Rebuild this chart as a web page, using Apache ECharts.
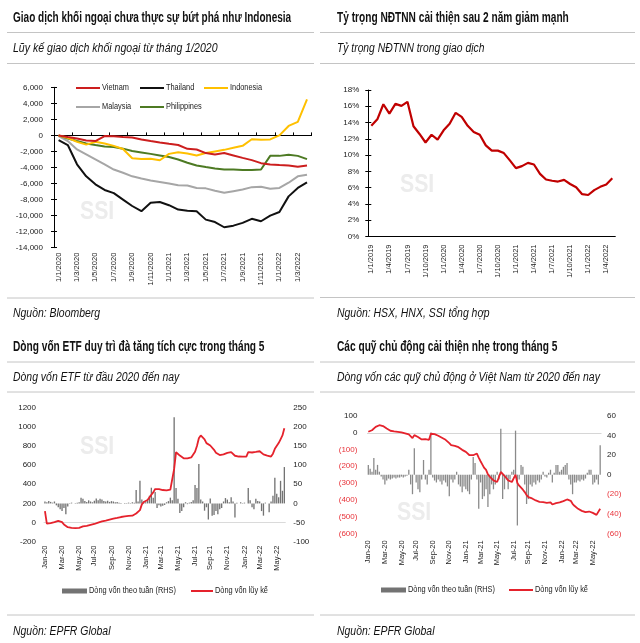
<!DOCTYPE html>
<html><head><meta charset="utf-8">
<script src="https://cdn.jsdelivr.net/npm/echarts@6/dist/echarts.min.js"></script>
<style>html,body{margin:0;padding:0;background:#fff}#c{width:640px;height:643px}</style>
</head><body><div id="c"></div><script>
const FN = '"Liberation Sans Narrow","Arial Narrow","Liberation Sans",Arial,sans-serif';

// ---------- Panel 1: cumulative foreign trading since 1/2020 ----------
const p1Months = ['1/1/2020','1/2/2020','1/3/2020','1/4/2020','1/5/2020','1/6/2020','1/7/2020','1/8/2020','1/9/2020','1/10/2020','1/11/2020','1/12/2020',
  '1/1/2021','1/2/2021','1/3/2021','1/4/2021','1/5/2021','1/6/2021','1/7/2021','1/8/2021','1/9/2021','1/10/2021','1/11/2021','1/12/2021',
  '1/1/2022','1/2/2022','1/3/2022','1/4/2022'];
const vietnam = [0,-200,-375,-625,-700,-80,-100,-200,-250,-500,-700,-875,-1040,-1200,-1670,-1750,-2200,-2375,-2200,-2500,-2800,-3080,-3460,-3625,-3700,-3750,-3900,-3750];
const thailand = [-580,-1200,-3600,-5100,-6100,-6800,-7200,-8000,-8800,-9450,-8400,-8300,-8700,-9250,-9400,-9450,-10500,-10800,-11450,-11250,-10900,-10400,-10700,-10000,-9550,-7600,-6550,-5850];
const indonesia = [0,-300,-800,-1150,-800,-1000,-1300,-1700,-2850,-2950,-2900,-3100,-2300,-2100,-2250,-2500,-2200,-2000,-1800,-1550,-1300,-480,-550,-500,0,1180,1700,4500];
const malaysia = [-100,-700,-1750,-2375,-3000,-3625,-4250,-4650,-5100,-5375,-5625,-5800,-6000,-6200,-6250,-6550,-6600,-6900,-7150,-6950,-6750,-6450,-6400,-6650,-6550,-5900,-5100,-4900];
const philippines = [0,-375,-700,-1000,-1200,-1375,-1450,-1650,-1950,-2125,-2300,-2500,-2700,-3000,-3400,-3750,-3950,-4125,-4250,-4250,-4300,-4300,-4250,-2550,-2550,-2400,-2550,-2950];

// ---------- Panel 2: foreign investor share (%) ----------
const p2Months = ['1/1/2019','1/2/2019','1/3/2019','1/4/2019','1/5/2019','1/6/2019','1/7/2019','1/8/2019','1/9/2019','1/10/2019','1/11/2019','1/12/2019',
  '1/1/2020','1/2/2020','1/3/2020','1/4/2020','1/5/2020','1/6/2020','1/7/2020','1/8/2020','1/9/2020','1/10/2020','1/11/2020','1/12/2020',
  '1/1/2021','1/2/2021','1/3/2021','1/4/2021','1/5/2021','1/6/2021','1/7/2021','1/8/2021','1/9/2021','1/10/2021','1/11/2021','1/12/2021',
  '1/1/2022','1/2/2022','1/3/2022','1/4/2022','1/5/2022'];
const foreignShare = [13.6,14.4,16.25,15.1,16.3,16.05,16.55,13.55,12.6,11.55,12.5,11.9,13.05,13.85,15.2,14.7,13.6,12.85,12.5,11.2,10.55,10.55,10.25,9.35,8.4,8.65,9.05,8.85,7.7,7.0,6.85,6.75,6.95,6.45,6.05,5.2,5.1,5.7,6.1,6.4,7.15];

// ---------- Panels 3 & 4: weekly categories ----------
const weekDates = [];
for (let i = 0; i < 127; i++) { weekDates.push(new Date(Date.UTC(2020,0,1) + i*7*864e5).toISOString().slice(0,10)); }

const etfWeekly = [5,3,6,4,2,5, -5,-10,-15,-20,-12,-28,-8, 1,2,0,1,2,3, 15,12, 6,4,8,5,3,7, 13,8,12,10, 6,5,7,4,6,5,3,4,
  2,1,0,1,-1,2,1,3,2, 35,5,59,10,5,3,8,20,41,15,30, -12,-5,-8,-6,-4,3,6,15,8, 225,40,12,-25,-20,-10,
  3,-2,2,4,8,48,40,103,10,5, -19,-10,-42,13,-32,-30,-20,-28,-15,-12, 5,14,10,3,16,5,-37, 2,0,3,1,2,0,
  40,8,-10,-15,12,6,5,-20,-32,2,0,-23,5,20,67,25,16,59,33,95];
const etfCum = [120,-10,-8,-5,-3,5,12,17,12,5, -20,-35,-48,-52,-55,-57,-58,-60,-55,-45, -40,-38,-35,-30,-25,-20,-15,-5,0,8,
  12,15,20,25,30,35,40,45,48,55, 58,60,65,68,70,72,72,75, 95,110,130,190,215,225,235,255,290,315,350,
  362,350,345,340,338,336,338,345,360, 560,735,725,700,680,672, 670,670,675,680,690,740,800,880,910,905,
  870,830,810,805,800,760,730,712,705,706, 712,720,728,732,735,720,698, 692,690,688,688,688,690,
  735,740,732,730,738,742,745,725,712,710,700,688,690,720,770,785,830,870,910,985];

const activeWeekly = [10,6,3,17,5,10,3,-2,-5,-10, -6,-4,-5,-4,-3,-4,-3,-3,-2,-3,-2,-1,
  5,-10,-20,27,-8,-15,-18,-5,15,-5,-10,5,43, -3,-6,-8,-5,-7,-10,-6,-8,-12,-22,-5,-8,-5,3,
  -10,-12,-18,-12,-15,-17,-20,-5,18,12,-5, -35,-8,-25,-22,-15,-33,-20,-10,-15,-10,3,-5,
  47,-25,-15,-5,-15,-5,3,5,45,-52,-5,10,8, -10,-30,-25,-10,-12,-8,-10,-6,-8,-5,3,-2,-3,2,5,-8,
  2,10,10,3,5,8,10,12, -5,-10,-20,-8,-8,-6,-7,-5,-6,-4,2,5,5,-10,-8,-5,-10,30];
const activeCum = [6,8,15,26,35,40,45,46,40,34, 25,18,12,10,8,6,5,3,2,0,-4,-6,
  -10,-20,-32,-14,-12,-25,-24,-40,-30,-38,-40,-42,-6, -4,-8,-14,-18,-24,-30,-36,-42,-50,-62,-74,-76,-78,-80,
  -86,-90,-102,-110,-114,-120,-134,-144,-134,-126,-124, -148,-170,-190,-210,-222,-248,-262,-272,-284,-290,-294,-284,
  -234,-246,-256,-270,-284,-290,-294,-286,-250,-300,-316,-324,-340, -354,-372,-384,-388,-392,-398,-404,-410,-412,-414,-414,-414,-418,-418,-416,-428,
  -426,-420,-418,-416,-412,-408,-404,-398, -394,-406,-424,-436,-446,-454,-460,-466,-470,-474,-474,-470,-474,-478,-484,-490,-480,-454];

const MON = ['Jan','Feb','Mar','Apr','May','Jun','Jul','Aug','Sep','Oct','Nov','Dec'];
const fmtWeek = v => MON[+v.slice(5,7)-1] + '-' + v.slice(2,4);
const showWeek = (i, v) => (+v.slice(8,10) <= 7) && ((+v.slice(5,7)) % 2 === 1);

const TXT = '#222';
const RED_NEG = '#e8333a';
const C = {vn: '#cc1e1e', th: '#111111', id: '#ffc000', my: '#a6a6a6', ph: '#4d7a23', share: '#c00000', bar3: '#737373', bar4: '#8a8a8a', cum: '#e5222c'};
const lbl = (extra) => Object.assign({fontFamily: FN, fontSize: 8, color: TXT}, extra);
const plain = v => String(v);
const paren = v => v < 0 ? '(' + (-v) + ')' : String(v);

const chart = echarts.init(document.getElementById('c'), null, {renderer: 'canvas'});

function txt(x, y, text, weight, style, size, sx) {
  return {type: 'text', x: x, y: y, z: 10, scaleX: sx, style: {text: text, fontFamily: FN, fontSize: size, fontWeight: weight, fontStyle: style, fill: '#111', verticalAlign: 'middle', align: 'left'}};
}
function rule(x1, x2, y) {
  return {type: 'line', z: 10, shape: {x1: x1, y1: y, x2: x2, y2: y}, style: {stroke: '#c4c4c4', lineWidth: 1}};
}
function mark(x, y) {
  return {type: 'text', x: x, y: y, z: 0, scaleX: 0.85, style: {text: 'SSI', fontFamily: FN, fontSize: 25, fontWeight: 'bold', fill: '#ececec', verticalAlign: 'middle'}};
}
function legLine(x, y, w, color, label) {
  return [
    {type: 'line', z: 10, shape: {x1: x, y1: y, x2: x + w, y2: y}, style: {stroke: color, lineWidth: 2}},
    {type: 'text', x: x + w + 2, y: y, z: 10, scaleX: 0.82, style: {text: label, fontFamily: FN, fontSize: 9, fill: TXT, verticalAlign: 'middle'}}
  ];
}
function legBar(x, y, w, color, label) {
  return [
    {type: 'rect', z: 10, shape: {x: x, y: y - 2.5, width: w, height: 5}, style: {fill: color}},
    {type: 'text', x: x + w + 2, y: y, z: 10, scaleX: 0.82, style: {text: label, fontFamily: FN, fontSize: 9, fill: TXT, verticalAlign: 'middle'}}
  ];
}

const option = {
  animation: false,
  backgroundColor: '#fff',
  graphic: [].concat(
    txt(13, 18, 'Giao dịch khối ngoại chưa thực sự bứt phá như Indonesia', 'bold', 'normal', 14, 0.715),
    txt(337, 18, 'Tỷ trọng NĐTNN cải thiện sau 2 năm giảm mạnh', 'bold', 'normal', 14, 0.725),
    txt(13, 49, 'Lũy kế giao dịch khối ngoại từ tháng 1/2020', 'normal', 'italic', 12, 0.88),
    txt(337, 49, 'Tỷ trọng NĐTNN trong giao dịch', 'normal', 'italic', 12, 0.86),
    txt(13, 314, 'Nguồn: Bloomberg', 'normal', 'italic', 12, 0.87),
    txt(337, 314, 'Nguồn: HSX, HNX, SSI tổng hợp', 'normal', 'italic', 12, 0.87),
    txt(13, 347, 'Dòng vốn ETF duy trì đà tăng tích cực trong tháng 5', 'bold', 'normal', 14, 0.725),
    txt(337, 347, 'Các quỹ chủ động cải thiện nhẹ trong tháng 5', 'bold', 'normal', 14, 0.725),
    txt(13, 378, 'Dòng vốn ETF từ đầu 2020 đến nay', 'normal', 'italic', 12, 0.87),
    txt(337, 378, 'Dòng vốn các quỹ chủ động ở Việt Nam từ 2020 đến nay', 'normal', 'italic', 12, 0.87),
    txt(13, 632, 'Nguồn: EPFR Global', 'normal', 'italic', 12, 0.87),
    txt(337, 632, 'Nguồn: EPFR Global', 'normal', 'italic', 12, 0.87),
    rule(7, 314, 32.5), rule(320, 635, 32.5),
    rule(7, 314, 63.5), rule(320, 635, 63.5),
    rule(7, 314, 298), rule(320, 635, 297.5),
    rule(7, 314, 362), rule(320, 635, 362),
    rule(7, 314, 392), rule(320, 635, 392),
    rule(7, 314, 615), rule(320, 635, 615),
    mark(80, 212), mark(400, 185), mark(80, 447), mark(397, 513),
    legLine(76, 88, 24, C.vn, 'Vietnam'),
    legLine(140, 88, 24, C.th, 'Thailand'),
    legLine(204, 88, 24, C.id, 'Indonesia'),
    legLine(76, 107, 24, C.my, 'Malaysia'),
    legLine(140, 107, 24, C.ph, 'Philippines'),
    legBar(62, 591, 25, C.bar3, 'Dòng vốn theo tuần (RHS)'),
    legLine(191, 591, 22, C.cum, 'Dòng vốn lũy kế'),
    legBar(381, 590, 25, C.bar3, 'Dòng vốn theo tuần (RHS)'),
    legLine(509, 590, 24, C.cum, 'Dòng vốn lũy kế')
  ),
  grid: [
    {left: 54, top: 87.3, width: 257.6, height: 160.4},
    {left: 368.3, top: 90, width: 247, height: 146.5},
    {left: 44, top: 407.7, width: 241.3, height: 134},
    {left: 367.4, top: 416, width: 233.7, height: 117.3}
  ],
  xAxis: [
    {gridIndex: 0, type: 'category', data: p1Months, boundaryGap: true, position: 'bottom',
      axisLine: {onZero: true, onZeroAxisIndex: 0, lineStyle: {color: '#000', width: 1}},
      axisTick: {show: true, interval: 1, inside: true, length: 3, lineStyle: {color: '#000'}},
      axisLabel: {show: false}, splitLine: {show: false}},
    {gridIndex: 0, type: 'category', data: p1Months, boundaryGap: true, position: 'bottom',
      axisLine: {show: false, onZero: false}, axisTick: {show: false},
      axisLabel: lbl({interval: 1, rotate: 90, margin: 5, fontSize: 7.5})},
    {gridIndex: 1, type: 'category', data: p2Months, boundaryGap: true,
      axisLine: {lineStyle: {color: '#000'}},
      axisTick: {interval: 2, length: 3, lineStyle: {color: '#000'}},
      axisLabel: lbl({interval: 2, rotate: 90, margin: 8, fontSize: 7.5})},
    {gridIndex: 2, type: 'category', data: weekDates, boundaryGap: true,
      axisLine: {onZero: true, onZeroAxisIndex: 4, lineStyle: {color: '#dadada', width: 1}}, axisTick: {show: false},
      axisLabel: {show: false}},
    {gridIndex: 3, type: 'category', data: weekDates, boundaryGap: true,
      axisLine: {onZero: true, onZeroAxisIndex: 6, lineStyle: {color: '#d6d6d6', width: 1}}, axisTick: {show: false},
      axisLabel: {show: false}},
    {gridIndex: 2, type: 'category', data: weekDates, boundaryGap: true, position: 'bottom',
      axisLine: {show: false, onZero: false}, axisTick: {show: false},
      axisLabel: lbl({interval: showWeek, formatter: fmtWeek, rotate: 90, margin: 4, fontSize: 7.5})},
    {gridIndex: 3, type: 'category', data: weekDates, boundaryGap: true, position: 'bottom',
      axisLine: {show: false, onZero: false}, axisTick: {show: false},
      axisLabel: lbl({interval: showWeek, formatter: fmtWeek, rotate: 90, margin: 7, fontSize: 7.5})}
  ],
  yAxis: [
    {gridIndex: 0, type: 'value', min: -14000, max: 6000, interval: 2000, position: 'left',
      axisLine: {show: true, lineStyle: {color: '#000'}}, axisTick: {show: true, length: 3, lineStyle: {color: '#000'}},
      splitLine: {show: false}, axisLabel: lbl({margin: 11, formatter: v => v.toLocaleString('en-US')})},
    {gridIndex: 0, type: 'value', min: -14000, max: 6000, interval: 2000, position: 'left',
      axisLine: {show: false}, axisTick: {show: true, inside: true, length: 3, lineStyle: {color: '#000'}},
      splitLine: {show: false}, axisLabel: {show: false}},
    {gridIndex: 1, type: 'value', min: 0, max: 18, interval: 2, position: 'left',
      axisLine: {show: true, lineStyle: {color: '#000'}}, axisTick: {show: true, length: 3, lineStyle: {color: '#000'}},
      splitLine: {show: false}, axisLabel: lbl({margin: 9, formatter: '{value}%'})},
    {gridIndex: 1, type: 'value', min: 0, max: 18, interval: 2, position: 'left',
      axisLine: {show: false}, axisTick: {show: true, inside: true, length: 3, lineStyle: {color: '#000'}},
      splitLine: {show: false}, axisLabel: {show: false}},
    {gridIndex: 2, type: 'value', min: -200, max: 1200, interval: 200, position: 'left',
      axisLine: {show: false}, axisTick: {show: false}, splitLine: {show: false},
      axisLabel: lbl({margin: 8, fontSize: 8, formatter: plain})},
    {gridIndex: 2, type: 'value', min: -100, max: 250, interval: 50, position: 'right',
      axisLine: {show: false}, axisTick: {show: false}, splitLine: {show: false},
      axisLabel: lbl({margin: 8, fontSize: 8, formatter: plain})},
    {gridIndex: 3, type: 'value', min: -600, max: 100, interval: 100, position: 'left',
      axisLine: {show: false}, axisTick: {show: false}, splitLine: {show: false},
      axisLabel: lbl({margin: 10, fontSize: 8, formatter: paren, color: v => Number(v) < 0 ? RED_NEG : TXT})},
    {gridIndex: 3, type: 'value', min: -60, max: 60, interval: 20, position: 'right',
      axisLine: {show: false}, axisTick: {show: false}, splitLine: {show: false},
      axisLabel: lbl({margin: 6, fontSize: 8, formatter: paren, color: v => Number(v) < 0 ? RED_NEG : TXT})}
  ],
  series: [
    {name: 'Thailand', type: 'line', xAxisIndex: 0, yAxisIndex: 0, data: thailand, symbol: 'none', color: C.th, lineStyle: {width: 2, color: C.th}},
    {name: 'Malaysia', type: 'line', xAxisIndex: 0, yAxisIndex: 0, data: malaysia, symbol: 'none', color: C.my, lineStyle: {width: 2, color: C.my}},
    {name: 'Philippines', type: 'line', xAxisIndex: 0, yAxisIndex: 0, data: philippines, symbol: 'none', color: C.ph, lineStyle: {width: 2, color: C.ph}},
    {name: 'Indonesia', type: 'line', xAxisIndex: 0, yAxisIndex: 0, data: indonesia, symbol: 'none', color: C.id, lineStyle: {width: 2, color: C.id}},
    {name: 'Vietnam', type: 'line', xAxisIndex: 0, yAxisIndex: 0, data: vietnam, symbol: 'none', color: C.vn, lineStyle: {width: 2, color: C.vn}},
    {name: 'Tỷ trọng NĐTNN', type: 'line', xAxisIndex: 2, yAxisIndex: 2, data: foreignShare, symbol: 'none', color: C.share, lineStyle: {width: 2.2, color: C.share}},
    {name: 'Dòng vốn theo tuần (RHS)', type: 'bar', xAxisIndex: 3, yAxisIndex: 5, data: etfWeekly, barWidth: '70%', itemStyle: {color: C.bar3}},
    {name: 'Dòng vốn lũy kế', type: 'line', xAxisIndex: 3, yAxisIndex: 4, data: etfCum, symbol: 'none', lineStyle: {width: 1.8, color: C.cum}},
    {name: 'Dòng vốn theo tuần (RHS) ', type: 'bar', xAxisIndex: 4, yAxisIndex: 7, data: activeWeekly, barWidth: '70%', itemStyle: {color: C.bar4}},
    {name: 'Dòng vốn lũy kế ', type: 'line', xAxisIndex: 4, yAxisIndex: 6, data: activeCum, symbol: 'none', lineStyle: {width: 1.8, color: C.cum}}
  ]
};
chart.setOption(option);
</script></body></html>
